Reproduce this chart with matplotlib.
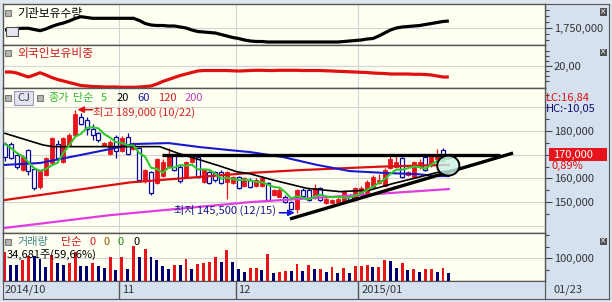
import matplotlib
matplotlib.use('Agg')
import matplotlib.pyplot as plt
from matplotlib.patches import Rectangle, Ellipse
from matplotlib.transforms import blended_transform_factory
import numpy as np
import pandas as pd

plt.rcParams['font.family'] = ['Noto Sans CJK KR', 'DejaVu Sans']

# ---- data -------------------------------------------------------------
holidays = ['2014-10-03', '2014-10-09', '2014-12-25', '2014-12-31', '2015-01-01']
dates = pd.bdate_range('2014-10-02', '2015-01-23')
dates = dates[~dates.isin(pd.to_datetime(holidays))]

open_ = [174500, 174500, 170000, 163500, 172000, 164000, 156500, 161500, 166500, 174500,
         167000, 174000, 178500, 186000, 184500, 181000, 179000, 174000, 170500, 177500,
         171500, 177500, 172500, 173000, 159500, 162500, 158000, 161000, 165000, 170000,
         165000, 160500, 167000, 169000, 158500, 162500, 162500, 162500, 158500, 158000,
         160500, 157000, 159500, 157000, 157000, 158000, 153000, 152000, 152000, 150000,
         147000, 155000, 155000, 152000, 156000, 149500, 149500, 150000, 150000, 153000,
         151000, 153000, 154000, 156500, 158000, 157000, 164500, 165000, 168500, 161500,
         160500, 165000, 169000, 165500, 168000, 172000, 168500]
high = [175500, 175500, 170500, 170000, 172500, 164500, 163500, 169000, 177500, 176000,
        177500, 179000, 189000, 187500, 186000, 183000, 179500, 175500, 176000, 178500,
        178000, 179000, 175500, 173500, 164000, 163000, 168500, 168000, 173000, 170500,
        166000, 167500, 169500, 170000, 164000, 163000, 163000, 163500, 163000, 161000,
        161000, 160500, 160000, 160000, 161000, 158500, 155500, 156000, 153000, 150500,
        155500, 156000, 156000, 157500, 156500, 152000, 151500, 152500, 155000, 153500,
        156500, 157000, 159500, 161500, 162000, 164500, 170000, 170000, 169000, 163000,
        167500, 168000, 169500, 170500, 172500, 173000, 170500]
low = [167500, 168000, 164000, 163000, 161500, 155000, 155500, 161000, 166000, 168000,
       166500, 173500, 178000, 182500, 178500, 176000, 175500, 173500, 170000, 168500,
       171000, 170000, 172000, 158500, 158000, 153000, 157500, 160500, 164500, 163000,
       158000, 160000, 166500, 160000, 158000, 157500, 158500, 157500, 151500, 157500,
       155500, 156500, 156000, 156500, 156500, 150500, 152500, 152000, 149500, 146500,
       145500, 152000, 150500, 151500, 150500, 149000, 149000, 149500, 149500, 150500,
       150500, 152500, 153500, 156000, 157500, 157000, 164000, 164500, 160000, 161000,
       160000, 164000, 163000, 165000, 167000, 167000, 168000]
close = [169000, 168500, 165000, 169000, 163000, 156000, 163000, 168500, 177000, 168500,
         177000, 178500, 187000, 183000, 181000, 178500, 176000, 175000, 175500, 171500,
         177000, 170500, 175000, 159500, 163500, 154000, 168000, 167000, 170500, 163500,
         159000, 167000, 169000, 160500, 163500, 158000, 159500, 158000, 162500, 160500,
         156000, 160000, 156500, 159500, 160000, 151000, 155000, 155000, 150000, 147000,
         155000, 152500, 151000, 156000, 151000, 151500, 151000, 151500, 154500, 151000,
         156000, 156000, 158500, 160500, 159500, 163500, 168000, 167000, 160500, 162500,
         167000, 167000, 163500, 169000, 170500, 168500, 170000]
pre_close = [176500, 175500, 176000, 175300]   # last Sept closes, for MA5

volume = [127600, 69600, 69600, 91300, 108700, 108700, 94200, 62300, 113000, 79700,
          69600, 76800, 127600, 65200, 65200, 79700, 65200, 55000, 105800, 47800,
          102900, 50700, 152000, 102900, 137700, 102900, 91300, 65200, 50700, 69600,
          69600, 94200, 50700, 73900, 79700, 84000, 102900, 82600, 134800, 82600,
          50700, 40600, 55000, 56000, 47800, 117400, 33300, 40600, 44800, 44000,
          73900, 44800, 69600, 50700, 52000, 40600, 62300, 36200, 55000, 36200,
          65200, 66000, 69600, 59400, 60000, 91300, 87000, 55000, 79700, 47800,
          50700, 40600, 50700, 52000, 40600, 58130, 34681]

# moving averages (day index, price)
ma20_idx = [0, 6.5, 8.2, 18, 26.5, 29.5, 33.4, 36.8, 39.7, 42, 45.9, 51.7, 57.4, 62.5, 66.4, 70, 74, 76]
ma20_val = [179000, 174100, 173400, 173400, 173400, 170700, 167800, 165200, 162800, 161900,
            159300, 155800, 154400, 155100, 157800, 160000, 162500, 163200]
ma60_idx = [0, 6, 13, 18, 22, 28, 33.4, 39, 42, 47.6, 53.4, 59, 65, 70.5, 74, 76]
ma60_val = [165700, 166500, 169900, 172400, 174500, 174900, 173200, 171800, 171100, 169000,
            165700, 163100, 162300, 161800, 161000, 161000]
ma120_idx = [0, 21.4, 42, 50.5, 59, 64.7, 76]
ma120_val = [150900, 158300, 162300, 163500, 164400, 165000, 165700]
ma200_idx = [0, 18, 42, 61, 76]
ma200_val = [139100, 144500, 150000, 153000, 155500]

# institution holdings and foreign ownership
inst = [1740000, 1742500, 1747500, 1748500, 1748500, 1742500, 1736500, 1745000, 1757500, 1767500,
        1775000, 1785000, 1797500, 1806500, 1802500, 1798500, 1798500, 1798500, 1798500, 1798500,
        1798500, 1798500, 1798500, 1787500, 1772500, 1765000, 1762500, 1762500, 1760000, 1760000,
        1755000, 1750000, 1740000, 1732500, 1730000, 1727500, 1725000, 1717500, 1710000, 1702500,
        1697500, 1690000, 1685000, 1682500, 1682500, 1680000, 1680000, 1680000, 1680000, 1680000,
        1680000, 1680000, 1680000, 1680000, 1680000, 1680000, 1680000, 1680000, 1682500, 1685000,
        1687500, 1690000, 1695000, 1697500, 1710000, 1725000, 1740000, 1750000, 1755000, 1757500,
        1760000, 1762500, 1767500, 1772500, 1777500, 1782500, 1785000]
foreign = [19.70, 19.70, 19.65, 19.55, 19.45, 19.55, 19.665, 19.55, 19.425, 19.325,
           19.25, 19.175, 19.10, 19.025, 19.00, 18.975, 18.965, 18.95, 18.95, 18.95,
           18.935, 18.935, 18.935, 18.95, 18.975, 19.00, 19.10, 19.225, 19.325, 19.425,
           19.525, 19.60, 19.675, 19.75, 19.775, 19.775, 19.775, 19.775, 19.775, 19.76,
           19.75, 19.76, 19.775, 19.785, 19.785, 19.775, 19.775, 19.785, 19.785, 19.785,
           19.785, 19.775, 19.775, 19.775, 19.775, 19.76, 19.75, 19.735, 19.725, 19.71,
           19.70, 19.685, 19.675, 19.65, 19.635, 19.625, 19.60, 19.60, 19.60, 19.60,
           19.585, 19.585, 19.575, 19.55, 19.50, 19.45, 19.45]

# drawn trend objects (day index, price)
resist_x = [26.9, 84.8]
resist_y = [170000, 170000]
support_x = [48.8, 87.0]
support_y = [142900, 170700]

# ---- layout -----------------------------------------------------------
W, H = 612, 302
step = 5.84
x_lo, x_hi = -(5 - 3) / step, (545 - 5) / step
RED, NAVY = '#e8141c', '#0a0a9a'
BG, PANEL, GRID, EDGE = '#fffff2', '#d6e1ef', '#d4d4d4', '#555555'

def box(x0, y0, x1, y1):
    return [x0 / W, 1 - y1 / H, (x1 - x0) / W, (y1 - y0) / H]

def P(x, y):
    return x / W, 1 - y / H

n = len(close)
idx = np.arange(n)
month_start = [i for i in range(1, n) if dates[i].month != dates[i - 1].month]
month_pos = [m - 0.5 for m in month_start]

fig = plt.figure(figsize=(W / 100, H / 100), dpi=100)
fig.patch.set_facecolor('#dfe6f0')

side = fig.add_axes(box(545, 4, 609, 299))
side.set_facecolor(PANEL)
side.set_xticks([])
side.set_yticks([])
for sp in side.spines.values():
    sp.set_color(EDGE)

def setup(ax, ylim, grid_y):
    ax.set_facecolor(BG)
    ax.set_xlim(x_lo, x_hi)
    ax.set_ylim(*ylim)
    ax.set_xticks([])
    ax.yaxis.tick_right()
    for sp in ax.spines.values():
        sp.set_color(EDGE)
        sp.set_linewidth(1)
    for g in grid_y:
        ax.axhline(g, color=GRID, lw=0.8, zorder=0)
    for m in month_pos:
        ax.axvline(m, color=GRID, lw=0.8, zorder=0)
    ax.tick_params(axis='y', which='major', direction='out', length=5, width=0.8,
                   color='#444444', labelsize=8, pad=1.5, labelcolor='#333333')
    ax.tick_params(axis='y', which='minor', direction='out', length=3, width=0.8, color='#444444')

# panel 1: institution holdings
ax1 = fig.add_axes(box(3, 4, 545, 45))
setup(ax1, (1665000, 1870000), [1750000])
ax1.plot(idx, inst, color='black', lw=2.3, solid_capstyle='butt')
ax1.set_yticks([1750000])
ax1.set_yticklabels(['1,750,000'])
ax1.set_yticks([1690000, 1720000, 1780000, 1810000, 1840000], minor=True)

# panel 2: foreign ownership
ax2 = fig.add_axes(box(3, 45, 545, 88))
setup(ax2, (18.9, 21.05), [20])
ax2.plot(idx, foreign, color='#e01010', lw=2.3, solid_capstyle='butt')
ax2.set_yticks([20])
ax2.set_yticklabels(['20,00'])
ax2.set_yticks([19.25, 19.5, 19.75, 20.25, 20.5, 20.75], minor=True)

# panel 3: price
ax3 = fig.add_axes(box(3, 88, 545, 233))
setup(ax3, (136960, 198140), [140000, 150000, 160000, 170000, 180000, 190000])
ax3.set_yticks([150000, 160000, 170000, 180000])
ax3.set_yticklabels(['150,000', '160,000', '', '180,000'])
ax3.set_yticks([145000, 155000, 165000, 175000, 185000, 190000, 195000], minor=True)

bw = 0.68
for i in range(n):
    o, h, l, c = open_[i], high[i], low[i], close[i]
    if c >= o:
        ax3.vlines(i, l, h, color=RED, lw=0.9, zorder=3)
        ax3.add_patch(Rectangle((i - bw / 2, o), bw, max(c - o, 300), fc=RED, ec=RED, lw=0.6, zorder=3))
    else:
        ax3.vlines(i, l, h, color=NAVY, lw=0.9, zorder=3)
        ax3.add_patch(Rectangle((i - bw / 2, c), bw, o - c, fc='white', ec=NAVY, lw=0.9, zorder=3))

ma5 = pd.Series(pre_close + close).rolling(5).mean().values[len(pre_close):]
ax3.plot(ma200_idx, ma200_val, color='#e03ce0', lw=1.6, zorder=4)
ax3.plot(ma120_idx, ma120_val, color='#d81010', lw=1.6, zorder=4)
ax3.plot(ma60_idx, ma60_val, color='#1818d0', lw=1.5, zorder=4)
ax3.plot(ma20_idx, ma20_val, color='black', lw=1.2, zorder=4)
ax3.plot(idx, ma5, color='#2ec82e', lw=1.5, zorder=4)

ax3.plot(resist_x, resist_y, color='black', lw=2.4, solid_capstyle='butt', zorder=5, clip_on=False)
ax3.plot(support_x, support_y, color='black', lw=2.4, solid_capstyle='butt', zorder=5, clip_on=False)
ax3.add_patch(Ellipse((75.9, 165400), 3.8, 8400, fc=(0.78, 0.95, 0.91, 0.8), ec='black', lw=1.4, zorder=6))

i_hi = int(np.argmax(high))
i_lo = int(np.argmin(low))
arrow = dict(arrowstyle='-|>', lw=1.2, mutation_scale=9, shrinkA=0, shrinkB=0)
ax3.annotate('', xy=(i_hi + 0.4, high[i_hi]), xytext=(i_hi + 3.0, high[i_hi]),
             arrowprops=dict(arrow, color='#e01010'), zorder=7)
ax3.annotate(f'최고 {high[i_hi]:,} ({dates[i_hi]:%m/%d})', xy=(i_hi + 3.1, high[i_hi]),
             xytext=(0, -2), textcoords='offset points', ha='left', va='center',
             fontsize=8, color='#d02020', zorder=7)
ax3.annotate('', xy=(i_lo - 0.4, low[i_lo]), xytext=(i_lo - 3.0, low[i_lo]),
             arrowprops=dict(arrow, color='#1414e0'), zorder=7)
ax3.annotate(f'최저 {low[i_lo]:,} ({dates[i_lo]:%m/%d})', xy=(i_lo - 3.6, low[i_lo]),
             xytext=(0, 1.5), textcoords='offset points', ha='right', va='center',
             fontsize=8, color='#1a1a90', zorder=7)

# current price box
bt = blended_transform_factory(ax3.transAxes, ax3.transData)
ax3.add_patch(Rectangle((1.0074, close[-1] - 2740), 0.107, 5480, transform=bt,
                        fc=RED, ec='none', clip_on=False, zorder=10))
ax3.text(1.0150, close[-1], f'{close[-1]:,}', transform=bt, color='white', fontsize=8,
         ha='left', va='center', clip_on=False, zorder=11)
pct = (close[-1] / close[-2] - 1) * 100
ax3.annotate(f'{pct:.2f}%'.replace('.', ','), xy=(1.0129, close[-1]), xycoords=bt,
             xytext=(0, -8.3), textcoords='offset points', color='#e01010', fontsize=8,
             ha='left', va='center', annotation_clip=False, zorder=11)
lc = (close[-1] / min(low) - 1) * 100
hc = (close[-1] / max(high) - 1) * 100
fig.text(*P(546, 98), f'LC:{lc:.2f}'.replace('.', ','), color='#e01010', fontsize=8, va='center')
fig.text(*P(546, 109), f'HC:{hc:.2f}'.replace('.', ','), color='#101070', fontsize=8, va='center')

# panel 4: volume
ax4 = fig.add_axes(box(3, 233, 545, 281))
setup(ax4, (0, 208700), [100000])
vcol = [RED] + [RED if volume[i] > volume[i - 1] else '#000070' for i in range(1, n)]
ax4.bar(idx, volume, width=0.5, color=vcol, zorder=3)
ax4.set_yticks([100000])
ax4.set_yticklabels(['100,000'])
ax4.set_yticks([50000, 150000, 200000], minor=True)

# date strip
ax5 = fig.add_axes(box(3, 281, 545, 299))
ax5.set_facecolor(PANEL)
ax5.set_xlim(x_lo, x_hi)
ax5.set_ylim(0, 1)
ax5.set_xticks([])
ax5.set_yticks([])
for sp in ax5.spines.values():
    sp.set_color(EDGE)
ax5.text(0, 0.5, dates[0].strftime('%Y/%m'), fontsize=8, color='#333333', va='center', ha='left')
for m, pos in zip(month_start, month_pos):
    ax5.axvline(pos, color=EDGE, lw=1)
    lab = dates[m].strftime('%Y/%m') if dates[m].month == 1 else dates[m].strftime('%m')
    ax5.annotate(lab, xy=(pos, 0.5), xytext=(2, 0), textcoords='offset points',
                 fontsize=8, color='#333333', va='center', ha='left')
fig.text(*P(553, 290), dates[-1].strftime('%m/%d'), fontsize=8, color='#333333', va='center')

# ---- legends / titles -------------------------------------------------
def square(x, y):
    fig.add_artist(Rectangle(P(x, y + 6), 6 / W, 6 / H, transform=fig.transFigure,
                             fc='#b4b4b4', ec='#7a7a7a', lw=0.8))

square(5, 10)
fig.text(*P(17, 13), '기관보유수량', fontsize=8.5, color='black', va='center')
fig.add_artist(Rectangle(P(6, 36), 12 / W, 9 / H, transform=fig.transFigure,
                         fc='#e6e6ee', ec='#505050', lw=0.8))
square(5, 50)
fig.text(*P(17, 53), '외국인보유비중', fontsize=8.5, color='#c81e1e', va='center')

square(5, 95)
fig.add_artist(Rectangle(P(14, 105), 19 / W, 14 / H, transform=fig.transFigure,
                         fc='#e4e4f0', ec='#9a9ab8', lw=0.8))
fig.text(*P(23.5, 98), 'CJ', fontsize=8, color='#404060', va='center', ha='center')
square(37, 95)
fig.text(*P(48, 98), '종가', fontsize=8, color='#30b830', va='center')
fig.text(*P(73, 98), '단순', fontsize=8, color='#30b830', va='center')
fig.text(*P(101, 98), '5', fontsize=8, color='#30b830', va='center')
fig.text(*P(117, 98), '20', fontsize=8, color='black', va='center')
fig.text(*P(137, 98), '60', fontsize=8, color='#1a1a9a', va='center')
fig.text(*P(158, 98), '120', fontsize=8, color='#c81e1e', va='center')
fig.text(*P(185, 98), '200', fontsize=8, color='#c040c0', va='center')

square(5, 239)
fig.text(*P(17, 242), '거래량', fontsize=8, color='#408888', va='center')
fig.text(*P(61, 242), '단순', fontsize=8, color='#c81e1e', va='center')
fig.text(*P(89, 242), '0', fontsize=8, color='#c81e1e', va='center')
fig.text(*P(104, 242), '0', fontsize=8, color='#8b5a00', va='center')
fig.text(*P(118, 242), '0', fontsize=8, color='#208020', va='center')
fig.text(*P(133, 242), '0', fontsize=8, color='black', va='center')
vpct = volume[-1] / volume[-2] * 100
fig.text(*P(7, 255), f'{volume[-1]:,}주({vpct:.2f}%)'.replace('.', ','), fontsize=8,
         color='black', va='center')

for yb in (12, 52, 241):
    fig.add_artist(Rectangle(P(600, yb + 3.5), 7 / W, 7 / H, transform=fig.transFigure,
                             fc='#505050', ec='none'))
    fig.text(*P(603.5, yb), '×', fontsize=5.5, color='white', ha='center', va='center',
             family='DejaVu Sans')

fig.savefig('out.png', dpi=100, facecolor=fig.get_facecolor())
